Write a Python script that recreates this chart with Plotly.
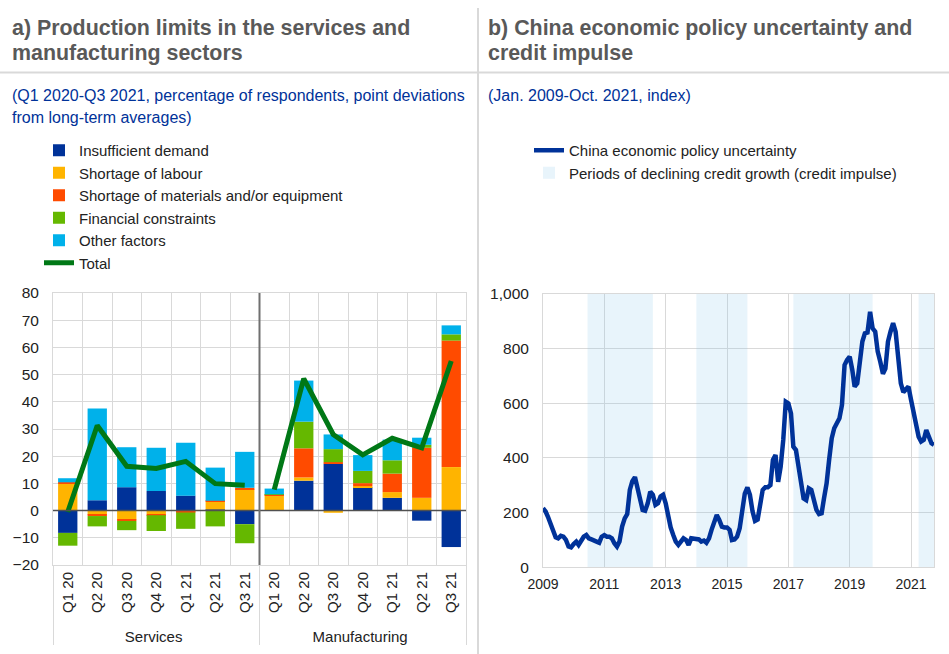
import plotly.graph_objects as go
import pandas as pd

# ---------------- Data: panel a ----------------
quarters = ["Q1 20", "Q2 20", "Q3 20", "Q4 20", "Q1 21", "Q2 21", "Q3 21"]
sectors = ["Services", "Manufacturing"]

insufficient_demand = [-8.2, 3.8, 8.6, 7.2, 5.5, 0.4, -5.0,
                       0.2, 11.0, 17.2, 8.6, 4.7, -3.7, -13.4]
shortage_labour = [9.8, -1.5, -3.2, -1.3, -0.2, 3.0, 7.8,
                   5.5, 1.2, -0.8, 0.4, 2.1, 4.7, 16.0]
shortage_materials = [0.6, -0.5, -0.6, -0.4, -0.5, 0.2, 0.6,
                      0.2, 10.7, 0.6, 1.1, 6.8, 18.4, 46.5]
financial_constraints = [-4.7, -3.8, -3.4, -5.8, -6.0, -5.8, -7.0,
                         0.1, 9.8, 4.8, 4.5, 4.9, 1.1, 2.3]
other_factors = [1.5, 33.7, 14.7, 15.9, 19.4, 12.2, 13.2,
                 2.1, 15.1, 5.4, 5.8, 7.6, 2.6, 3.3]
total_services = [-0.5, 31.3, 16.3, 15.5, 18.1, 9.9, 9.3]
total_manufacturing = [7.7, 48.5, 28.0, 20.5, 26.6, 23.1, 55.0]

# ---------------- Data: panel b ----------------
epu_start = "2009-01-01"
epu_values = [
    216, 204, 185, 161, 130, 110, 106, 115, 112, 100, 76, 73,      # 2009
    85, 94, 82, 98, 112, 118, 106, 102, 100, 94, 90, 112,          # 2010
    118, 112, 112, 106, 88, 76, 94, 149, 179, 195, 283, 315,       # 2011
    330, 290, 246, 210, 207, 234, 277, 265, 228, 234, 259, 265,    # 2012
    234, 179, 146, 118, 94, 82, 94, 106, 100, 82, 106, 106,        # 2013
    102, 102, 94, 98, 90, 106, 137, 167, 191, 173, 149, 146,       # 2014
    146, 137, 100, 102, 112, 143, 198, 270, 292, 265, 205, 170,    # 2015
    175, 234, 283, 293, 293, 301, 393, 411, 313, 368, 466, 606,    # 2016
    600, 563, 441, 429, 368, 307, 252, 246, 289, 283, 246, 210,    # 2017
    195, 198, 252, 307, 393, 472, 509, 527, 545, 594, 740, 759,    # 2018
    771, 722, 661, 673, 759, 826, 856, 859, 935, 874, 862, 789,    # 2019
    751, 708, 727, 826, 862, 893, 862, 771, 673, 641, 654, 661,    # 2020
    612, 568, 515, 478, 460, 466, 502, 478, 454, 448,              # 2021
]
shade_start = ["2010-06-15", "2014-01-01", "2017-03-01", "2021-04-01"]
shade_end = ["2012-08-01", "2015-09-01", "2019-10-01", "2021-10-01"]
epu_axis_max = 1000

# ---------------- Styling ----------------
FONT = "Liberation Sans, Arial, sans-serif"
W, H = 949, 654
C_DEMAND = "#003299"
C_LABOUR = "#ffb400"
C_MATER = "#ff4b00"
C_FIN = "#65b800"
C_OTHER = "#00b1ea"
C_TOTAL = "#007816"
GRID = "#d9d9d9"
TXT = "#222222"


def px(x):
    return x / W


def py(y):
    return 1 - y / H


sector_labels = [s for s in sectors for _ in quarters]
quarter_labels = quarters * len(sectors)
xcat = [sector_labels, quarter_labels]

fig = go.Figure()

components = [
    ("Insufficient demand", insufficient_demand, C_DEMAND),
    ("Shortage of labour", shortage_labour, C_LABOUR),
    ("Shortage of materials and/or equipment", shortage_materials, C_MATER),
    ("Financial constraints", financial_constraints, C_FIN),
    ("Other factors", other_factors, C_OTHER),
]
for name, vals, col in components:
    fig.add_trace(go.Bar(
        x=xcat, y=vals, name=name, marker=dict(color=col, line=dict(width=0)),
        xaxis="x", yaxis="y", legend="legend",
    ))

fig.add_trace(go.Scatter(
    x=[["Services"] * len(quarters), quarters], y=total_services, name="Total",
    mode="lines", line=dict(color=C_TOTAL, width=5), xaxis="x", yaxis="y",
    legend="legend", legendgroup="total",
))
fig.add_trace(go.Scatter(
    x=[["Manufacturing"] * len(quarters), quarters], y=total_manufacturing,
    name="Total", mode="lines", line=dict(color=C_TOTAL, width=5),
    xaxis="x", yaxis="y", showlegend=False, legendgroup="total",
))

# Panel b
months = pd.date_range(epu_start, periods=len(epu_values), freq="MS")
fig.add_trace(go.Scatter(
    x=months, y=epu_values, name="China economic policy uncertainty",
    mode="lines", line=dict(color="#003299", width=4.5),
    xaxis="x2", yaxis="y2", legend="legend2",
))
s = pd.to_datetime(shade_start)
e = pd.to_datetime(shade_end)
mids = s + (e - s) / 2
widths = [(b - a).total_seconds() * 1000 for a, b in zip(s, e)]
fig.add_trace(go.Bar(
    x=mids, y=[epu_axis_max] * len(mids), width=widths,
    name="Periods of declining credit growth (credit impulse)",
    marker=dict(color="rgba(135,195,235,0.19)", line=dict(width=0)),
    xaxis="x2", yaxis="y2", legend="legend2",
))

annotations = []


def add_text(text, x, y, size, color, bold=False):
    annotations.append(dict(
        text=f"<b>{text}</b>" if bold else text, x=px(x), y=py(y),
        xref="paper", yref="paper", xanchor="left", yanchor="middle",
        showarrow=False, font=dict(family=FONT, size=size, color=color),
    ))


TITLE_C = "#595959"
SUB_C = "#003299"
add_text("a) Production limits in the services and", 10, 28, 21.4, TITLE_C, True)
add_text("manufacturing sectors", 10, 53, 21.4, TITLE_C, True)
add_text("b) China economic policy uncertainty and", 486, 28, 21.4, TITLE_C, True)
add_text("credit impulse", 486, 53, 21.4, TITLE_C, True)
add_text("(Q1 2020-Q3 2021, percentage of respondents, point deviations", 10, 95, 16, SUB_C)
add_text("from long-term averages)", 10, 117, 16, SUB_C)
add_text("(Jan. 2009-Oct. 2021, index)", 486, 95, 16, SUB_C)

shapes = [
    dict(type="line", xref="paper", yref="paper", x0=0, x1=1, y0=py(72.5), y1=py(72.5),
         line=dict(color=GRID, width=2)),
    dict(type="line", xref="paper", yref="paper", x0=px(478), x1=px(478), y0=py(8), y1=0,
         line=dict(color=GRID, width=2)),
    dict(type="line", xref="x domain", yref="y", x0=0, x1=1, y0=0, y1=0,
         line=dict(color="#505050", width=1.5), layer="above"),
    dict(type="line", xref="x domain", yref="y domain", x0=0.5, x1=0.5, y0=0, y1=1,
         line=dict(color="#707070", width=2), layer="above"),
]

fig.update_layout(
    width=W, height=H,
    margin=dict(l=0, r=0, t=0, b=0),
    paper_bgcolor="white", plot_bgcolor="white",
    font=dict(family=FONT, color=TXT),
    barmode="relative", bargap=0.345,
    annotations=annotations, shapes=shapes,
    xaxis=dict(
        type="multicategory", domain=[px(53), px(466)], anchor="y",
        tickangle=-90, tickfont=dict(size=15, color=TXT),
        showgrid=True, gridcolor=GRID, gridwidth=1,
        showline=True, mirror=True, linecolor=GRID,
        showdividers=True, dividercolor=GRID, dividerwidth=1,
        ticks="", automargin=False,
    ),
    yaxis=dict(
        domain=[py(565), py(293)], anchor="x", range=[-20, 80], dtick=10,
        tickfont=dict(size=15.5, color=TXT), showgrid=True, gridcolor=GRID,
        zeroline=False, showline=True, mirror=True, linecolor=GRID,
        ticks="", ticklabelstandoff=10, automargin=False,
    ),
    xaxis2=dict(
        type="date", domain=[px(543), px(934)], anchor="y2",
        range=["2009-01-01", "2021-10-01"], tick0="2009-01-01", dtick="M24",
        tickformat="%Y", tickfont=dict(size=14, color=TXT),
        showgrid=True, gridcolor=GRID, showline=True, mirror=True, linecolor=GRID,
        ticks="", ticklabelstandoff=4, automargin=False,
    ),
    yaxis2=dict(
        domain=[py(567.3), py(294)], anchor="x2", range=[0, epu_axis_max], dtick=200,
        tickformat=",d", tickfont=dict(size=15.5, color=TXT),
        showgrid=True, gridcolor=GRID, zeroline=False,
        showline=True, mirror=True, linecolor=GRID,
        ticks="", ticklabelstandoff=10, automargin=False,
    ),
    legend=dict(
        x=px(39), y=py(134), xanchor="left", yanchor="top",
        font=dict(size=15.0, color=TXT), traceorder="normal",
        bgcolor="rgba(0,0,0,0)",
    ),
    legend2=dict(
        x=px(529), y=py(134), xanchor="left", yanchor="top",
        font=dict(size=15.0, color=TXT), traceorder="normal",
        bgcolor="rgba(0,0,0,0)",
    ),
    showlegend=True,
)

fig.write_html("out.html", config={"displayModeBar": False},
               post_script="document.body.style.margin='0';")
